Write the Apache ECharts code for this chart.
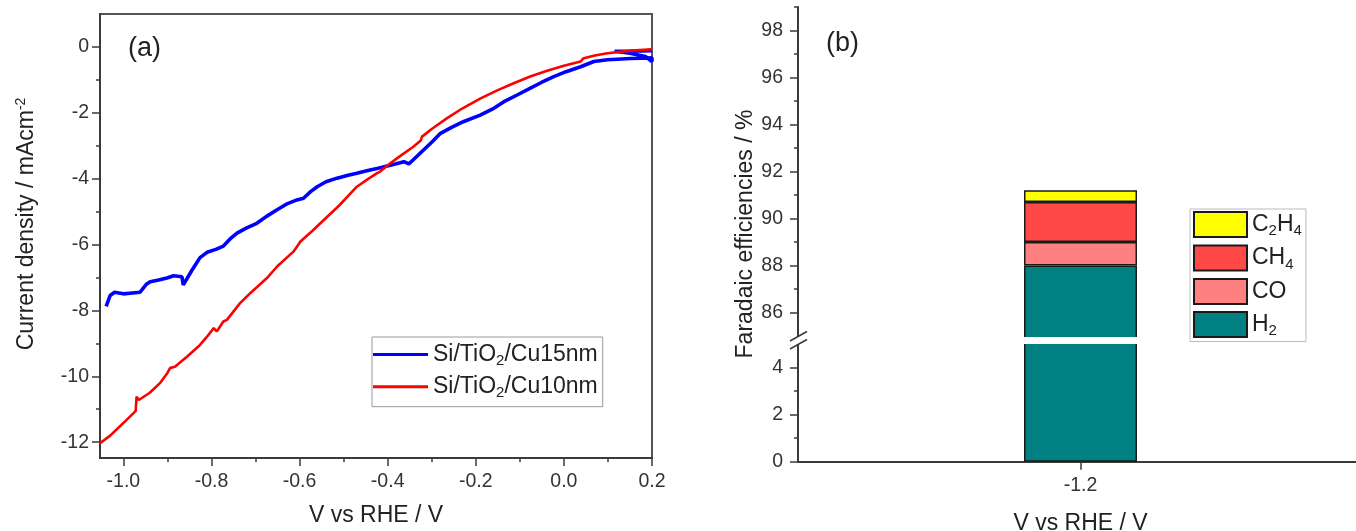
<!DOCTYPE html>
<html>
<head>
<meta charset="utf-8">
<script src="https://cdn.jsdelivr.net/npm/echarts@6/dist/echarts.min.js"></script>
<style>
  html, body { margin: 0; padding: 0; background: #fff; }
  #chart { width: 1356px; height: 531px; }
</style>
</head>
<body>
<div id="chart"></div>
<script>
// (a) polarisation curves, [V vs RHE, current density mA/cm2]
const cu15nm = [
  [-1.039, -7.88], [-1.030, -7.55], [-1.020, -7.45], [-1.000, -7.50], [-0.985, -7.48],
  [-0.962, -7.45], [-0.947, -7.20], [-0.939, -7.13], [-0.920, -7.08], [-0.901, -7.02],
  [-0.886, -6.95], [-0.867, -6.98], [-0.864, -7.23], [-0.845, -6.80], [-0.826, -6.40],
  [-0.810, -6.24], [-0.790, -6.15], [-0.773, -6.05], [-0.755, -5.80], [-0.742, -5.66],
  [-0.720, -5.50], [-0.697, -5.36], [-0.675, -5.15], [-0.651, -4.95], [-0.630, -4.78],
  [-0.606, -4.65], [-0.591, -4.60], [-0.575, -4.40], [-0.560, -4.25], [-0.540, -4.10],
  [-0.515, -3.99], [-0.490, -3.90], [-0.470, -3.84], [-0.445, -3.76], [-0.424, -3.70],
  [-0.394, -3.60], [-0.363, -3.49], [-0.352, -3.56], [-0.348, -3.60], [-0.318, -3.13],
  [-0.300, -2.90], [-0.280, -2.63], [-0.255, -2.45], [-0.227, -2.27], [-0.190, -2.08],
  [-0.159, -1.87], [-0.136, -1.67], [-0.105, -1.46], [-0.076, -1.26], [-0.050, -1.08],
  [-0.023, -0.91], [0.005, -0.76], [0.038, -0.61], [0.068, -0.45], [0.099, -0.40],
  [0.152, -0.36], [0.200, -0.34], [0.200, -0.45], [0.185, -0.30], [0.150, -0.20],
  [0.115, -0.14], [0.150, -0.14], [0.200, -0.12]
];
const cu10nm = [
  [-1.053, -12.03], [-1.030, -11.80], [-1.000, -11.42], [-0.977, -11.12], [-0.972, -11.05],
  [-0.970, -10.62], [-0.965, -10.72], [-0.962, -10.77], [-0.940, -10.50], [-0.917, -10.21],
  [-0.900, -9.90], [-0.894, -9.75], [-0.883, -9.71], [-0.855, -9.40], [-0.826, -9.05],
  [-0.810, -8.80], [-0.795, -8.54], [-0.788, -8.64], [-0.773, -8.34], [-0.765, -8.29],
  [-0.735, -7.78], [-0.712, -7.48], [-0.674, -7.02], [-0.651, -6.67], [-0.614, -6.22],
  [-0.606, -6.07], [-0.598, -5.91], [-0.570, -5.58], [-0.545, -5.26], [-0.510, -4.82],
  [-0.470, -4.25], [-0.445, -4.02], [-0.424, -3.84], [-0.417, -3.79], [-0.394, -3.54],
  [-0.379, -3.39], [-0.341, -3.03], [-0.325, -2.85], [-0.322, -2.73], [-0.300, -2.50],
  [-0.265, -2.17], [-0.230, -1.87], [-0.189, -1.57], [-0.150, -1.32], [-0.114, -1.11],
  [-0.075, -0.90], [-0.038, -0.73], [0.000, -0.58], [0.038, -0.45], [0.045, -0.35],
  [0.070, -0.27], [0.099, -0.20], [0.152, -0.12], [0.200, -0.08]
];
const vMajor = [-1.0, -0.8, -0.6, -0.4, -0.2, 0.0, 0.2];
const vMinor = [-0.9, -0.7, -0.5, -0.3, -0.1, 0.1];
const jMajor = [-12, -10, -8, -6, -4, -2, 0];
const jMinor = [-11, -9, -7, -5, -3, -1];

// (b) faradaic efficiencies at one potential
const potentials = ['-1.2'];
const feH2 = [88.0];
const feCO = [1.0];
const feCH4 = [1.7];
const feC2H4 = [0.5];
const feUpperMajor = [86, 88, 90, 92, 94, 96, 98];
const feUpperMinor = [87, 89, 91, 93, 95, 97, 99];
const feLowerMajor = [0, 2, 4];
const feLowerMinor = [1, 3];

const FONT = "'Liberation Sans', Arial, sans-serif";
const AXIS = '#3a3a3a';
const TXT = '#222';
const TICK_FS = 19.5;
const TITLE_FS = 23;

// broken axis of (b): 23.5 px per %, gap between the two parts
const breakTop = 337;
const breakBottom = 344;

const subRich = {
  n: { fontSize: 23, fontFamily: FONT, color: TXT, lineHeight: 28 },
  s: { fontSize: 15, fontFamily: FONT, color: TXT, lineHeight: 15, verticalAlign: 'bottom' }
};
const legendNames = {
  'Si/TiO2/Cu15nm': '{n|Si/TiO}{s|2}{n|/Cu15nm}',
  'Si/TiO2/Cu10nm': '{n|Si/TiO}{s|2}{n|/Cu10nm}',
  C2H4: '{n|C}{s|2}{n|H}{s|4}',
  CH4: '{n|CH}{s|4}',
  CO: '{n|CO}',
  H2: '{n|H}{s|2}'
};

function tickLabel(values, margin, fmt) {
  return { customValues: values, margin: margin, formatter: fmt, fontSize: TICK_FS, fontFamily: FONT, color: '#333' };
}
function majorTick(values) {
  return { show: true, length: 8, customValues: values, lineStyle: { color: AXIS, width: 1.5 } };
}
function mainAxis(extra) {
  return Object.assign({
    type: 'value',
    axisLine: { show: true, onZero: false, lineStyle: { color: AXIS, width: 2 } },
    splitLine: { show: false }
  }, extra);
}
function minorAxis(extra, ticks) {
  return Object.assign({
    type: 'value',
    axisLine: { show: false, onZero: false },
    splitLine: { show: false },
    axisLabel: { show: false },
    axisTick: { show: true, length: 4, customValues: ticks, lineStyle: { color: AXIS, width: 1.5 } }
  }, extra);
}

const barBorder = { borderColor: '#1a1a1a', borderWidth: 1.5 };
const colors = { H2: '#008080', CO: '#ff8080', CH4: '#ff4848', C2H4: '#ffff00' };

// upper grid runs a bit past the gap so the clipped bar edges hide under the white band
const upperBottom = breakTop + 2;
const lowerTop = breakBottom - 2;
const upperMin = 99 - (upperBottom - 7) / 23.5;
const lowerMax = (461.7 - lowerTop) / 23.5;

const chart = echarts.init(document.getElementById('chart'));
chart.setOption({
  animation: false,
  backgroundColor: '#fff',
  grid: [
    { left: 100, top: 14, width: 552, height: 444, show: true, borderColor: '#555', borderWidth: 2, outerBoundsMode: 'none' },
    { left: 798, top: 7, width: 565, height: upperBottom - 7, outerBoundsMode: 'none' },
    { left: 798, top: lowerTop, width: 565, height: 461.7 - lowerTop, outerBoundsMode: 'none' }
  ],
  xAxis: [
    mainAxis({
      gridIndex: 0, min: -1.053, max: 0.2, position: 'bottom',
      axisTick: majorTick(vMajor),
      axisLabel: tickLabel(vMajor, 14, v => v.toFixed(1)),
      name: 'V vs RHE / V', nameLocation: 'middle', nameGap: 46,
      nameTextStyle: { fontSize: TITLE_FS, fontFamily: FONT, color: TXT }
    }),
    minorAxis({ gridIndex: 0, min: -1.053, max: 0.2, position: 'bottom' }, vMinor),
    { gridIndex: 1, type: 'category', data: potentials, show: false },
    {
      gridIndex: 2, type: 'category', data: potentials, position: 'bottom',
      axisLine: { show: true, lineStyle: { color: AXIS, width: 2 } },
      axisTick: { show: true, alignWithLabel: true, length: 8, lineStyle: { color: AXIS, width: 1.5 } },
      axisLabel: { margin: 14, fontSize: TICK_FS, fontFamily: FONT, color: '#333' },
      name: 'V vs RHE / V', nameLocation: 'middle', nameGap: 50,
      nameTextStyle: { fontSize: TITLE_FS, fontFamily: FONT, color: TXT }
    }
  ],
  yAxis: [
    mainAxis({
      gridIndex: 0, min: -12.48, max: 0.99, position: 'left',
      axisTick: majorTick(jMajor),
      axisLabel: tickLabel(jMajor, 11)
    }),
    minorAxis({ gridIndex: 0, min: -12.48, max: 0.99, position: 'left' }, jMinor),
    mainAxis({
      gridIndex: 1, min: upperMin, max: 99, position: 'left',
      axisTick: majorTick(feUpperMajor),
      axisLabel: tickLabel(feUpperMajor, 15)
    }),
    minorAxis({ gridIndex: 1, min: upperMin, max: 99, position: 'left' }, feUpperMinor),
    mainAxis({
      gridIndex: 2, min: 0, max: lowerMax, position: 'left',
      axisTick: majorTick(feLowerMajor),
      axisLabel: tickLabel(feLowerMajor, 15)
    }),
    minorAxis({ gridIndex: 2, min: 0, max: lowerMax, position: 'left' }, feLowerMinor)
  ],
  legend: [
    {
      left: 372, top: 337, orient: 'vertical', selectedMode: false,
      data: ['Si/TiO2/Cu15nm', 'Si/TiO2/Cu10nm'],
      icon: 'rect', itemWidth: 55, itemHeight: 3, itemGap: 6.7, padding: [6, 5, 6, 1],
      borderColor: '#999', borderWidth: 1,
      formatter: name => legendNames[name],
      textStyle: { fontSize: 23, fontFamily: FONT, color: TXT, rich: subRich }
    },
    {
      left: 1190, top: 209, orient: 'vertical', selectedMode: false,
      data: ['C2H4', 'CH4', 'CO', 'H2'],
      icon: 'rect', itemWidth: 53, itemHeight: 25, itemGap: 6, padding: [2, 4, 3, 3],
      borderColor: '#bbb', borderWidth: 1,
      formatter: name => legendNames[name],
      textStyle: { fontSize: 23, fontFamily: FONT, color: TXT, rich: subRich }
    }
  ],
  series: [
    {
      name: 'Si/TiO2/Cu15nm', type: 'line', xAxisIndex: 0, yAxisIndex: 0,
      data: cu15nm, symbol: 'none', showSymbol: false,
      lineStyle: { color: '#0000ff', width: 3.6 }, itemStyle: { color: '#0000ff' }
    },
    {
      name: 'Si/TiO2/Cu10nm', type: 'line', xAxisIndex: 0, yAxisIndex: 0,
      data: cu10nm, symbol: 'none', showSymbol: false,
      lineStyle: { color: '#ff0000', width: 2.6 }, itemStyle: { color: '#ff0000' }
    },
    { name: 'H2', type: 'bar', xAxisIndex: 2, yAxisIndex: 2, stack: 'fe', barWidth: 113, data: feH2,
      itemStyle: Object.assign({ color: colors.H2 }, barBorder) },
    { name: 'CO', type: 'bar', xAxisIndex: 2, yAxisIndex: 2, stack: 'fe', barWidth: 113, data: feCO,
      itemStyle: Object.assign({ color: colors.CO }, barBorder) },
    { name: 'CH4', type: 'bar', xAxisIndex: 2, yAxisIndex: 2, stack: 'fe', barWidth: 113, data: feCH4,
      itemStyle: Object.assign({ color: colors.CH4 }, barBorder) },
    { name: 'C2H4', type: 'bar', xAxisIndex: 2, yAxisIndex: 2, stack: 'fe', barWidth: 113, data: feC2H4,
      itemStyle: Object.assign({ color: colors.C2H4 }, barBorder) },
    // lower part of the broken axis
    { name: 'H2', type: 'bar', xAxisIndex: 3, yAxisIndex: 4, barWidth: 113, data: feH2,
      itemStyle: Object.assign({ color: colors.H2 }, barBorder) }
  ],
  graphic: [
    { type: 'text', left: 128, top: 35, style: { text: '(a)', fontSize: 27, fontFamily: FONT, fill: TXT } },
    { type: 'text', left: 826, top: 30, style: { text: '(b)', fontSize: 27, fontFamily: FONT, fill: TXT } },
    {
      type: 'text', x: 27, y: 224, rotation: Math.PI / 2,
      style: {
        text: 'Current density / mAcm{sup|-2}', fontSize: TITLE_FS, fontFamily: FONT, fill: TXT,
        align: 'center', verticalAlign: 'middle', lineHeight: 26,
        rich: { sup: { fontSize: 14, fontFamily: FONT, fill: TXT, lineHeight: 14, verticalAlign: 'top' } }
      }
    },
    {
      type: 'text', x: 746, y: 234, rotation: Math.PI / 2,
      style: { text: 'Faradaic efficiencies / %', fontSize: TITLE_FS, fontFamily: FONT, fill: TXT, align: 'center', verticalAlign: 'middle' }
    },
    // white band of the axis break (axis + bar only, legend stays clear), then the break marks
    { type: 'rect', z: 100, shape: { x: 797, y: breakTop, width: 370, height: breakBottom - breakTop }, style: { fill: '#fff' } },
    { type: 'line', z: 101, shape: { x1: 790, y1: 341, x2: 807, y2: 331.5 }, style: { stroke: AXIS, lineWidth: 1.5 } },
    { type: 'line', z: 101, shape: { x1: 790, y1: 349, x2: 807, y2: 339.5 }, style: { stroke: AXIS, lineWidth: 1.5 } }
  ]
});
</script>
</body>
</html>
